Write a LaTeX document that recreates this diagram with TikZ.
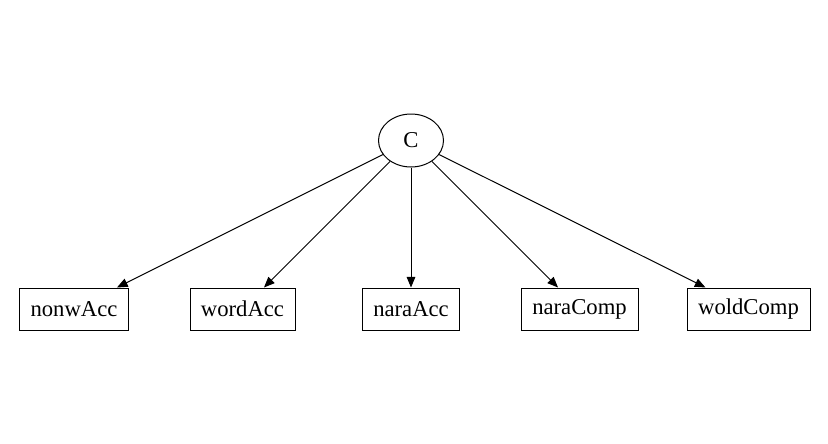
\documentclass[tikz,border=0pt]{standalone}
\usepackage{fontspec}
\setmainfont{Liberation Serif}
\usetikzlibrary{shapes.geometric,arrows.meta}
\begin{document}
\begin{tikzpicture}[x=0.75pt,y=-0.75pt,
  varbox/.style={draw,line width=0.75pt,rectangle,minimum height=31.5pt,inner sep=0pt,font=\fontsize{17}{20}\selectfont},
  latent/.style={draw,line width=0.75pt,ellipse,minimum width=48.75pt,minimum height=39.75pt,inner sep=0pt,font=\fontsize{17}{20}\selectfont},
  link/.style={line width=0.75pt,-{Triangle[length=8pt,width=6.5pt]}}]
\fill[white] (0,0) rectangle (828,443);
\useasboundingbox (0,0) rectangle (828,443);
\node[latent] (C) at (411,140.5) {C};
\node[varbox,minimum width=82pt] (n1) at (74,309) {nonwAcc};
\node[varbox,minimum width=78.75pt] (n2) at (242.5,309) {wordAcc};
\node[varbox,minimum width=72.75pt] (n3) at (411,309) {naraAcc};
\node[varbox,minimum width=87.75pt] (n4) at (579.5,309) {naraComp};
\node[varbox,minimum width=92.25pt] (n5) at (748.5,309) {woldComp};
\foreach \n in {n1,n2,n3,n4,n5} \draw[link] (C) -- (\n);
\end{tikzpicture}
\end{document}
